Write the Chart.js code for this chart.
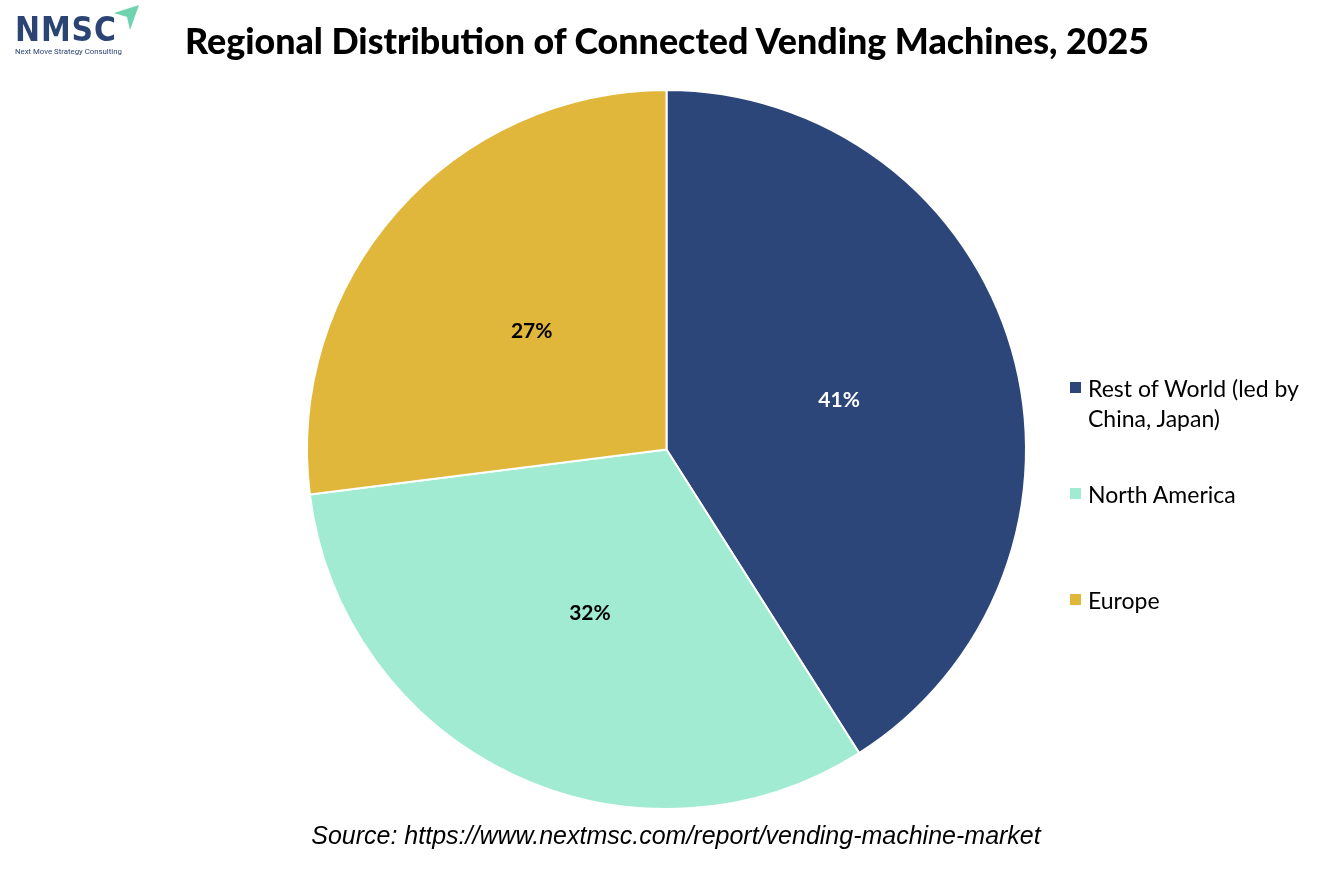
<!DOCTYPE html>
<html>
<head>
<meta charset="utf-8">
<script src="https://cdn.jsdelivr.net/npm/chart.js@4.4.1/dist/chart.umd.min.js"></script>
<style>
  body { margin: 0; background: #fff; }
  #wrap { position: relative; width: 1334px; height: 889px; overflow: hidden; }
  #chart { position: absolute; left: 0; top: 0; }
  #title {
    position: absolute; left: 0; top: 19px; width: 1334px; text-align: center;
    font-family: Lato, "Open Sans", sans-serif; font-weight: 900; font-size: 35.8px; color: #000;
  }
  #source {
    position: absolute; left: 0; top: 821px; width: 1352px; text-align: center;
    font-family: "Liberation Sans", Arial, sans-serif; font-style: italic; font-size: 25px; color: #000;
  }
  #logo { position: absolute; left: 14px; top: 0; width: 130px; height: 62px; }
  #logo .big {
    position: absolute; left: 1px; top: 9px; font-family: "DejaVu Sans", sans-serif; font-weight: bold;
    font-size: 34px; letter-spacing: 1px; color: #2b4474; transform-origin: 0 0; transform: scaleX(0.88);
  }
  #logo .small {
    position: absolute; left: 1px; top: 47px; font-family: Roboto, sans-serif; font-size: 7.8px; color: #2b4474;
    white-space: nowrap;
  }
  #logo svg { position: absolute; left: 99px; top: 4px; }
  #legend { position: absolute; left: 1070px; top: 373px; font-family: Lato, "Open Sans", sans-serif; font-size: 23px; color: #000; }
  .item { position: absolute; left: 0; width: 260px; line-height: 30px; }
  .box { position: absolute; left: 0; top: 9px; width: 11px; height: 11px; }
  .txt { margin-left: 18px; }
</style>
</head>
<body>
<div id="wrap">
  <canvas id="chart" width="1334" height="889"></canvas>
  <div id="logo">
    <div class="big">NMSC</div>
    <svg width="28" height="28" viewBox="0 0 28 28"><path d="M1 9 L26 1 L17 26 L14 13 Z" fill="#6fd3b0"/></svg>
    <div class="small">Next Move Strategy Consulting</div>
  </div>
  <div id="title">Regional Distribution of Connected Vending Machines, 2025</div>
  <div id="legend"></div>
  <div id="source">Source: https://www.nextmsc.com/report/vending-machine-market</div>
</div>
<script>
// donnees
const regions = ['Rest of World (led by China, Japan)', 'North America', 'Europe'];
const shares = [41, 32, 27];
const colors = ['#2c467a', '#a0ebd2', '#e0b73a'];
const labelColors = ['#ffffff', '#000000', '#000000'];
const legendTops = [0, 106, 212];

// legende HTML
const legend = document.getElementById('legend');
regions.forEach((name, i) => {
    const item = document.createElement('div');
    item.className = 'item';
    item.style.top = legendTops[i] + 'px';
    item.innerHTML = `<span class="box" style="background:${colors[i]}"></span><div class="txt">${name}</div>`;
    legend.appendChild(item);
});

// etiquettes en pourcentage sur les parts
const pctLabels = {
    id: 'pctLabels',
    afterDatasetsDraw(chart) {
        const ctx = chart.ctx;
        const meta = chart.getDatasetMeta(0);
        ctx.save();
        ctx.font = 'bold 21px Lato, "Open Sans", sans-serif';
        ctx.textAlign = 'center';
        ctx.textBaseline = 'middle';
        meta.data.forEach((arc, i) => {
            const p = arc.tooltipPosition();
            ctx.fillStyle = labelColors[i];
            ctx.fillText(shares[i] + '%', p.x, p.y + 1);
        });
        ctx.restore();
    }
};

new Chart(document.getElementById('chart'), {
    type: 'pie',
    data: {
        labels: regions,
        datasets: [{ data: shares, backgroundColor: colors, borderColor: '#ffffff', borderWidth: 2 }]
    },
    options: {
        responsive: false,
        animation: false,
        layout: { padding: { top: 89, bottom: 79, left: 306, right: 307 } },
        plugins: { legend: { display: false }, tooltip: { enabled: false } }
    },
    plugins: [pctLabels]
});
</script>
</body>
</html>
